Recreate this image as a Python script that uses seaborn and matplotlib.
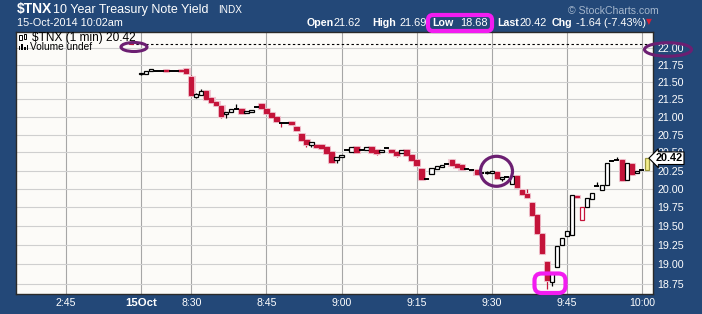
import numpy as np
import pandas as pd
import seaborn as sns
import matplotlib
matplotlib.use("Agg")
import matplotlib.pyplot as plt
from matplotlib.patches import Rectangle, Ellipse, FancyBboxPatch
from matplotlib.transforms import Affine2D, blended_transform_factory
from matplotlib.ticker import NullLocator, FixedLocator

# ---------------- data (1-minute candles, minute 0 = 8:20 on 15 Oct) ----------------
minutes = list(range(0, 102))
opens = [21.62, 21.62, 21.66, 21.67, 21.67, 21.68, 21.67, 21.67, 21.68, 21.69,
         21.58, 21.28, 21.31, 21.37, 21.27, 21.22, 21.15, 21.04, 21.07, 21.12,
         21.12, 21.06, 21.07, 21.14, 21.18, 21.11, 21.06, 21.00, 20.91, 20.92,
         20.93, 20.86, 20.76, 20.68, 20.60, 20.60, 20.60, 20.58, 20.51, 20.39,
         20.43, 20.53, 20.50, 20.57, 20.54, 20.53, 20.57, 20.53, 20.50, 20.56,
         20.54, 20.51, 20.49, 20.53, 20.46, 20.39, 20.27, 20.14, 20.20, 20.27,
         20.30, 20.34, 20.39, 20.34, 20.32, 20.27, 20.26, 20.26, 20.22, 20.21,
         20.21, 20.23, 20.13, 20.16, 20.07, 20.18, 19.99, 19.93, 19.81, 19.65,
         19.39, 19.03, 18.78, 18.97, 19.25, 19.37, 19.38, 19.90, 19.58, 19.75,
         19.86, 20.04, 19.98, 20.05, 20.38, 20.39, 20.39, 20.12, 20.34, 20.21,
         20.26, 20.26]
highs = [21.63, 21.66, 21.69, 21.67, 21.67, 21.68, 21.67, 21.67, 21.68, 21.69,
         21.60, 21.34, 21.40, 21.37, 21.27, 21.22, 21.15, 21.07, 21.12, 21.19,
         21.12, 21.09, 21.10, 21.14, 21.18, 21.11, 21.06, 21.00, 20.91, 20.93,
         20.93, 20.86, 20.76, 20.68, 20.64, 20.60, 20.60, 20.58, 20.51, 20.43,
         20.47, 20.55, 20.57, 20.57, 20.54, 20.57, 20.57, 20.53, 20.54, 20.58,
         20.54, 20.51, 20.53, 20.53, 20.46, 20.39, 20.27, 20.14, 20.28, 20.31,
         20.33, 20.36, 20.39, 20.34, 20.32, 20.27, 20.26, 20.26, 20.22, 20.24,
         20.24, 20.23, 20.16, 20.16, 20.17, 20.18, 19.99, 20.00, 19.81, 19.65,
         19.39, 19.03, 18.89, 19.24, 19.35, 19.44, 19.91, 19.91, 19.76, 19.87,
         19.95, 20.09, 20.05, 20.35, 20.40, 20.44, 20.39, 20.35, 20.34, 20.25,
         20.26, 20.42]
lows = [21.61, 21.62, 21.66, 21.67, 21.67, 21.66, 21.67, 21.67, 21.66, 21.64,
        21.32, 21.27, 21.31, 21.25, 21.22, 21.17, 20.98, 20.99, 21.07, 21.12,
        21.06, 21.06, 21.07, 21.14, 21.13, 21.05, 21.00, 20.94, 20.86, 20.91,
        20.90, 20.81, 20.67, 20.57, 20.57, 20.58, 20.56, 20.49, 20.37, 20.35,
        20.43, 20.53, 20.50, 20.49, 20.54, 20.53, 20.50, 20.47, 20.50, 20.56,
        20.50, 20.44, 20.49, 20.46, 20.39, 20.33, 20.13, 20.14, 20.20, 20.27,
        20.30, 20.34, 20.33, 20.30, 20.27, 20.27, 20.26, 20.20, 20.22, 20.20,
        20.21, 20.15, 20.10, 20.16, 20.07, 20.03, 19.93, 19.89, 19.65, 19.41,
        19.15, 18.68, 18.72, 18.97, 19.25, 19.37, 19.38, 19.87, 19.58, 19.75,
        19.86, 20.04, 19.98, 20.05, 20.38, 20.39, 20.12, 20.12, 20.20, 20.21,
        20.26, 20.26]
closes = [21.63, 21.66, 21.69, 21.67, 21.67, 21.66, 21.67, 21.67, 21.66, 21.64,
          21.32, 21.33, 21.37, 21.25, 21.22, 21.17, 21.02, 21.07, 21.12, 21.12,
          21.06, 21.09, 21.10, 21.14, 21.13, 21.05, 21.00, 20.94, 20.91, 20.92,
          20.90, 20.81, 20.67, 20.62, 20.64, 20.58, 20.56, 20.49, 20.37, 20.43,
          20.47, 20.53, 20.57, 20.51, 20.54, 20.57, 20.50, 20.49, 20.54, 20.56,
          20.50, 20.46, 20.53, 20.46, 20.39, 20.33, 20.13, 20.14, 20.28, 20.31,
          20.33, 20.34, 20.33, 20.30, 20.27, 20.27, 20.26, 20.20, 20.22, 20.23,
          20.24, 20.15, 20.16, 20.16, 20.17, 20.03, 19.93, 19.89, 19.65, 19.41,
          19.15, 18.80, 18.89, 19.24, 19.35, 19.44, 19.91, 19.89, 19.76, 19.87,
          19.95, 20.04, 20.05, 20.35, 20.38, 20.39, 20.12, 20.35, 20.20, 20.25,
          20.26, 20.42]

# previous session's last bar (14 Oct, ~2:58 pm) and previous close
prev_day_minute = [-2]
prev_day_open = [22.075]
prev_day_close = [22.06]
prev_close = 22.06

y_ticks = [18.75, 19.00, 19.25, 19.50, 19.75, 20.00, 20.25, 20.50, 20.75,
           21.00, 21.25, 21.50, 21.75, 22.00]
x_tick_minutes = [-15, 0, 10, 25, 40, 55, 70, 85, 100]
x_tick_labels = ["2:45", "15Oct", "8:30", "8:45", "9:00", "9:15", "9:30", "9:45", "10:00"]

header_stats = [("Open", "21.62"), ("High", "21.69"), ("Low", "18.68"),
                ("Last", "20.42"), ("Chg", "-1.64 (-7.43%)")]

# ---------------- styling ----------------
sns.set_theme(style="white")
plt.rcParams["font.family"] = ["Liberation Sans", "DejaVu Sans"]

BG = "#234878"
RED = "#c4143a"
HALO = "#f1c9d3"
W, H = 702, 314

fig = plt.figure(figsize=(W / 100, H / 100), dpi=100)
fig.patch.set_facecolor(BG)
ax = fig.add_axes([16 / W, 1 - 294 / H, 637 / W, 262 / H])
ax.set_facecolor("#fcfbf8")

df = pd.DataFrame({"m": minutes, "open": opens, "high": highs,
                   "low": lows, "close": closes})
prev = df["close"].shift(1).fillna(df["open"].iloc[0])
is_red = df["close"] < prev
is_last = df.index == df.index[-1]

ax.set_yscale("log")
ax.set_ylim(18.623, 22.245)
ax.set_xlim(-25.0, 102.2)

# grid and ticks
ax.yaxis.set_major_locator(FixedLocator(y_ticks))
ax.yaxis.set_minor_locator(NullLocator())
ax.set_yticks(y_ticks)
ax.set_yticklabels([f"{v:.2f}" for v in y_ticks])
ax.set_xticks(x_tick_minutes)
ax.set_xticklabels(x_tick_labels)
ax.yaxis.grid(True, color="#cfcfcf", lw=0.8)
ax.xaxis.grid(True, color="#a6a6a6", lw=0.8)
ax.set_axisbelow(True)
ax.yaxis.tick_right()
ax.tick_params(axis="y", length=0, pad=3, labelsize=7.7, labelcolor="white")
ax.tick_params(axis="x", length=0, pad=3, labelsize=7.6, labelcolor="white")
for lab in ax.get_xticklabels():
    if lab.get_text() == "15Oct":
        lab.set_fontweight("bold")
        lab.set_fontsize(8.2)
for sp in ax.spines.values():
    sp.set_color("#2a2a2a")
    sp.set_linewidth(1.0)

# previous-close dashed line
ax.hlines(prev_close, prev_day_minute[0], 102.2, colors="black",
          linestyles=(0, (2.2, 2.2)), lw=0.8, zorder=2)
# previous session's last bar
ax.bar(prev_day_minute, [o - c for o, c in zip(prev_day_open, prev_day_close)],
       bottom=prev_day_close, width=0.8, color=RED, edgecolor=RED, lw=0.8, zorder=3)

# wicks
wick_colors = np.where(is_last, "#8a8a30", np.where(is_red, RED, "black"))
ax.vlines(df["m"], df["low"], df["high"], colors=wick_colors, lw=0.9, zorder=2)

# bodies
body = df[df["close"] != df["open"]]
for i, r in body.iterrows():
    lo, hi = min(r.open, r.close), max(r.open, r.close)
    if is_last[i]:
        face, edge = "#f3ee8c", "#9a9640"
    elif r.close > r.open:
        face = "white"
        edge = RED if is_red[i] else "black"
    else:
        face = RED if is_red[i] else "black"
        edge = face
    if face == RED:
        # soft pink fringe seen around the red bodies
        ax.bar([r.m], [hi - lo], bottom=[lo], width=0.9, color=HALO,
               edgecolor=HALO, lw=2.2, zorder=2.5)
    ax.bar([r.m], [hi - lo], bottom=[lo], width=0.86, color=face,
           edgecolor=edge, lw=0.9, zorder=3)

# dojis
doji = df[df["close"] == df["open"]]
ax.hlines(doji["close"], doji["m"] - 0.5, doji["m"] + 0.5, colors="black",
          lw=1.4, zorder=3)

# last value tag
bt = blended_transform_factory(ax.transAxes, ax.transData)
ax.text(1.004, closes[-1], f"{closes[-1]:.2f}", transform=bt, ha="left",
        va="center", fontsize=7.8, fontweight="bold", color="black", zorder=5,
        bbox=dict(boxstyle="larrow,pad=0.12", fc="white", ec="black", lw=0.8),
        clip_on=False)

# ---------------- header texts ----------------
T = Affine2D().scale(1 / W, -1 / H).translate(0, 1) + fig.transFigure


def ptext(x, y, s, **kw):
    kw.setdefault("va", "center")
    kw.setdefault("ha", "left")
    fig.text(x / W, 1 - y / H, s, **kw)


ptext(17, 9.5, "$TNX", color="white", fontsize=10, fontweight="bold")
ptext(53, 9.5, "10 Year Treasury Note Yield", color="white", fontsize=9)
ptext(218, 10, "INDX", color="white", fontsize=7.2)
ptext(17, 23, "15-Oct-2014 10:02am", color="white", fontsize=7.8)
ptext(568, 11, "\u00a9 StockCharts.com", color="#a4b6cc", fontsize=7.6)

stat_x = [(307, 334), (372, 399), (432, 460), (497, 520), (552, 576)]
for (lbl, val), (xl, xv) in zip(header_stats, stat_x):
    ptext(xl, 22.5, lbl, color="white", fontsize=7.7, fontweight="bold")
    ptext(xv, 22.5, val, color="white", fontsize=7.9)
ptext(646, 22, "\u25bc", color="#d0203a", fontsize=5.5,
      family=["DejaVu Sans"])

# inside-plot legend
ptext(32.5, 37.5, "$TNX (1 min) 20.42", color="black", fontsize=8.6)
ptext(30, 47, "Volume undef", color="black", fontsize=7.3)
for (x0, y0, w, h) in [(19, 35, 2.5, 5), (23.5, 34, 2.5, 5)]:
    fig.add_artist(Rectangle((x0, y0), w, h, transform=T, fc="white",
                             ec="black", lw=0.7))
for (x0, y0, w, h) in [(18.5, 45.5, 1.8, 4.5), (21.2, 44, 1.8, 6), (23.9, 46.5, 1.8, 3.5),
                       (26.6, 45, 1.8, 5)]:
    fig.add_artist(Rectangle((x0, y0), w, h, transform=T, fc="black",
                             ec="none"))

# ---------------- hand-drawn annotations ----------------
PURPLE = "#6c1f72"
MAGENTA = "#f21cf0"
fig.add_artist(Ellipse((496.5, 171.3), 32, 30, transform=T, fill=False,
                       ec=PURPLE, lw=2.3))
fig.add_artist(Ellipse((668, 49.5), 47, 13.5, transform=T, fill=False,
                       ec=PURPLE, lw=2.2))
fig.add_artist(Ellipse((134, 47), 26, 9, transform=T, fill=False,
                       ec=PURPLE, lw=2.2))
fig.add_artist(FancyBboxPatch((428, 15), 64, 16,
                              boxstyle="round,pad=0,rounding_size=5",
                              transform=T, fill=False, ec=MAGENTA, lw=3))
fig.add_artist(FancyBboxPatch((534.5, 273.5), 31, 19.5,
                              boxstyle="round,pad=0,rounding_size=7",
                              transform=T, fill=False, ec=MAGENTA, lw=3))

fig.savefig("out.png", dpi=100, facecolor=fig.get_facecolor())
